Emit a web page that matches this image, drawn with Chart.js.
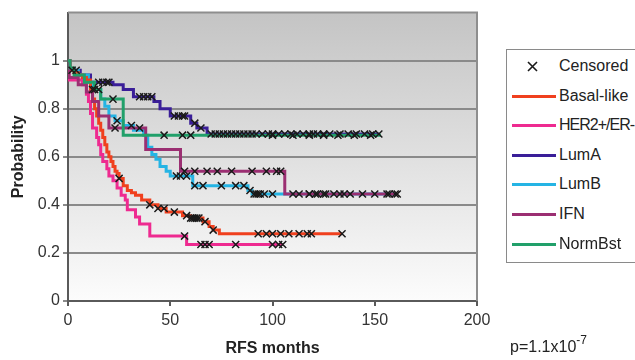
<!DOCTYPE html>
<html lang="en">
<head>
<meta charset="UTF-8">
<title>RFS - Kaplan-Meier</title>
<script src="https://cdn.jsdelivr.net/npm/chart.js"></script>
<style>
    body { margin: 0; background: #fff; font-family: "Liberation Sans", Arial, sans-serif; }
    .wrap { position: relative; width: 635px; height: 360px; overflow: hidden; }
    canvas { position: absolute; left: 0; top: 0; }
    .legenda { position: absolute; left: 506px; top: 49px; width: 150px; height: 212px; border: 1px solid #8a8a8a; background: #fff; }
    .item { position: absolute; left: 0; width: 140px; height: 20px; font-size: 16px; line-height: 20px; color: #222; }
    .item .linha { position: absolute; left: 5px; top: 9px; width: 44px; height: 3px; }
    .item .txt { position: absolute; left: 52px; top: 0; white-space: nowrap; }
    .item .apertado { letter-spacing: -1px; }
    .item svg { position: absolute; left: 20px; top: 5px; }
    .pval { position: absolute; left: 510px; top: 335px; font-size: 16px; color: #222; white-space: nowrap; }
    .pval sup { font-size: 12px; position: relative; top: -2px; }
</style>
</head>
<body>
<div class="wrap">
    <canvas id="kmChart" width="635" height="360"></canvas>
    <div class="legenda" id="legenda"></div>
    <div class="pval">p=1.1x10<sup>-7</sup></div>
</div>

<script>
    // step curves: time (months) and probability after each drop; last entry = end of follow-up
    const basalT = [0, 1, 3, 5, 7, 9, 11, 12, 13, 14, 15, 16, 17, 18, 19, 20, 21, 22, 23, 24, 25, 27, 29, 31, 33, 36, 40, 44, 48, 56, 60, 66, 69, 71, 74, 134];
    const basalS = [1, 0.96, 0.95, 0.94, 0.93, 0.92, 0.88, 0.84, 0.80, 0.77, 0.74, 0.71, 0.68, 0.65, 0.62, 0.60, 0.58, 0.56, 0.54, 0.53, 0.51, 0.48, 0.46, 0.45, 0.44, 0.42, 0.40, 0.385, 0.37, 0.355, 0.345, 0.33, 0.31, 0.295, 0.28, 0.28];
    const basalCens = [25, 40, 44, 47, 52, 58, 60, 61, 62, 63, 64, 67, 71, 93, 97, 100, 104, 108, 113, 117, 119, 134];

    const her2T = [0, 0.5, 7, 9, 10, 11, 12, 14, 15, 16, 17, 19, 20, 22, 24, 26, 28, 29, 33, 35, 40, 58, 105];
    const her2S = [1, 0.92, 0.90, 0.86, 0.83, 0.78, 0.72, 0.68, 0.65, 0.61, 0.58, 0.55, 0.52, 0.50, 0.47, 0.44, 0.42, 0.38, 0.35, 0.32, 0.27, 0.235, 0.235];
    const her2Cens = [57, 65, 67, 69, 82, 100, 103, 105];

    const lumAT = [0, 1, 6, 11, 22, 27, 32, 42, 45, 50, 60, 63, 68, 152];
    const lumAS = [1, 0.96, 0.94, 0.91, 0.90, 0.88, 0.85, 0.83, 0.80, 0.77, 0.74, 0.72, 0.695, 0.695];
    const lumACens = [2, 4, 15, 17, 19, 20, 35, 37, 39, 41, 52, 54, 56, 57, 62, 65, 70, 72, 74, 76, 78, 80, 82, 84, 86, 88, 90, 92, 95, 98, 100, 103, 106, 109, 112, 115, 118, 120, 122, 125, 128, 133, 137, 141, 145, 149, 152];

    const lumBT = [0, 1, 5, 10, 12, 16, 18, 20, 23, 27, 32, 37, 39, 41, 43, 45, 48, 50, 61, 88, 90, 160];
    const lumBS = [1, 0.96, 0.94, 0.91, 0.88, 0.84, 0.81, 0.77, 0.75, 0.73, 0.71, 0.69, 0.64, 0.61, 0.59, 0.56, 0.54, 0.52, 0.48, 0.46, 0.445, 0.445];
    const lumBCens = [12, 15, 24, 31, 53, 55, 58, 62, 66, 75, 82, 86, 89, 91, 92, 93, 94, 96, 100, 118, 122, 126, 135, 150, 157, 160];

    const ifnT = [0, 0.5, 5, 9, 12, 15, 20, 38, 55, 106, 161];
    const ifnS = [1, 0.93, 0.90, 0.87, 0.83, 0.77, 0.72, 0.63, 0.54, 0.445, 0.445];
    const ifnCens = [23, 35, 57, 62, 68, 73, 80, 90, 97, 102, 104, 110, 113, 118, 121, 125, 130, 133, 138, 144, 156, 161];

    const normT = [0, 1, 3, 8, 13, 16, 27, 153];
    const normS = [1, 0.97, 0.94, 0.91, 0.88, 0.84, 0.69, 0.69];
    const normCens = [13, 22, 47, 56, 60, 100, 110, 118, 125, 132, 140, 148];

    const xTicks = [0, 50, 100, 150, 200];
    const yTicks = [0, 0.2, 0.4, 0.6, 0.8, 1];

    const curvas = [
        { nome: 'Basal-like', T: basalT, S: basalS, cens: basalCens, cor: '#f0401e', ordem: 3 },
        { nome: 'HER2+/ER-', T: her2T, S: her2S, cens: her2Cens, cor: '#ee2a90', ordem: 4 },
        { nome: 'LumA', T: lumAT, S: lumAS, cens: lumACens, cor: '#3a1e98', ordem: 6 },
        { nome: 'LumB', T: lumBT, S: lumBS, cens: lumBCens, cor: '#25b4e4', ordem: 5 },
        { nome: 'IFN', T: ifnT, S: ifnS, cens: ifnCens, cor: '#9b2f72', ordem: 2 },
        { nome: 'NormBst', T: normT, S: normS, cens: normCens, cor: '#21a06a', ordem: 1 }
    ];

    function valorEm(T, S, t) {
        let s = S[0];
        for (let i = 0; i < T.length; i++) {
            if (T[i] <= t) s = S[i];
        }
        return s;
    }

    const datasets = curvas.map(c => ({
        type: 'line',
        label: c.nome,
        data: c.T.map((t, i) => ({ x: t, y: c.S[i] })),
        stepped: 'before',
        borderColor: c.cor,
        borderWidth: 3,
        pointRadius: 0,
        fill: false,
        order: c.ordem
    }));

    const censurados = [];
    curvas.forEach(c => c.cens.forEach(t => censurados.push({ x: t, y: valorEm(c.T, c.S, t) })));

    datasets.push({
        type: 'scatter',
        label: 'Censored',
        data: censurados,
        pointStyle: 'crossRot',
        pointRadius: 5,
        pointBorderWidth: 1.5,
        borderColor: '#1a1a1a',
        backgroundColor: '#1a1a1a',
        order: 0
    });

    // gradient background + top/right frame of the plot area
    const fundoPlot = {
        id: 'fundoPlot',
        beforeDraw(chart) {
            const { ctx, chartArea: a } = chart;
            const g = ctx.createLinearGradient(0, a.top, 0, a.bottom);
            g.addColorStop(0, '#c4c4c4');
            g.addColorStop(1, '#fcfcfc');
            ctx.save();
            ctx.fillStyle = g;
            ctx.fillRect(a.left, a.top, a.right - a.left, a.bottom - a.top);
            ctx.restore();
        },
        beforeDatasetsDraw(chart) {
            const { ctx, chartArea: a } = chart;
            ctx.save();
            ctx.strokeStyle = '#8e8e8e';
            ctx.lineWidth = 2;
            ctx.beginPath();
            ctx.moveTo(a.left, a.top);
            ctx.lineTo(a.right, a.top);
            ctx.lineTo(a.right, a.bottom);
            ctx.stroke();
            ctx.restore();
        }
    };

    Chart.defaults.font.family = '"Liberation Sans", Arial, sans-serif';
    Chart.defaults.color = '#333';

    new Chart(document.getElementById('kmChart'), {
        data: { datasets: datasets },
        options: {
            responsive: false,
            animation: false,
            layout: { padding: { top: 10, right: 158, left: 0, bottom: 0 } },
            plugins: { legend: { display: false }, tooltip: { enabled: false } },
            scales: {
                x: {
                    type: 'linear',
                    min: 0,
                    max: 200,
                    afterFit: s => { s.height = 59; },
                    afterBuildTicks: s => { s.ticks = xTicks.map(v => ({ value: v })); },
                    ticks: { font: { size: 16 }, padding: 5, maxRotation: 0 },
                    grid: { drawOnChartArea: false, drawTicks: true, tickLength: 5, color: '#5a5a5a', lineWidth: 2 },
                    border: { color: '#5a5a5a', width: 2 },
                    title: { display: true, text: 'RFS months', font: { size: 16, weight: 'bold' }, color: '#222', padding: { top: 0, bottom: 2 } }
                },
                y: {
                    type: 'linear',
                    min: 0,
                    max: 1.2,
                    afterFit: s => { s.width = 68; },
                    afterBuildTicks: s => { s.ticks = yTicks.map(v => ({ value: v })); },
                    ticks: { font: { size: 16 }, padding: 3, callback: v => String(Math.round(v * 10) / 10) },
                    grid: { color: '#8a8a8a', lineWidth: 2, tickLength: 5 },
                    border: { color: '#5a5a5a', width: 2 },
                    title: { display: true, text: 'Probability', font: { size: 16, weight: 'bold' }, color: '#222', padding: { top: 9, bottom: 0 } }
                }
            }
        },
        plugins: [fundoPlot]
    });

    // legend box (HTML)
    const legenda = document.getElementById('legenda');
    const itens = [{ nome: 'Censored', cor: null }].concat(curvas.map(c => ({ nome: c.nome, cor: c.cor })));
    itens.forEach((it, i) => {
        const div = document.createElement('div');
        div.className = 'item';
        div.style.top = (6 + i * 29.6) + 'px';
        const classe = it.nome === 'HER2+/ER-' ? 'txt apertado' : 'txt';
        if (it.cor) {
            div.innerHTML = '<span class="linha" style="background:' + it.cor + '"></span><span class="' + classe + '">' + it.nome + '</span>';
        } else {
            div.innerHTML = '<svg width="11" height="11"><path d="M1 1 L10 10 M10 1 L1 10" stroke="#1a1a1a" stroke-width="1.6"/></svg><span class="txt">' + it.nome + '</span>';
        }
        legenda.appendChild(div);
    });
</script>
</body>
</html>
